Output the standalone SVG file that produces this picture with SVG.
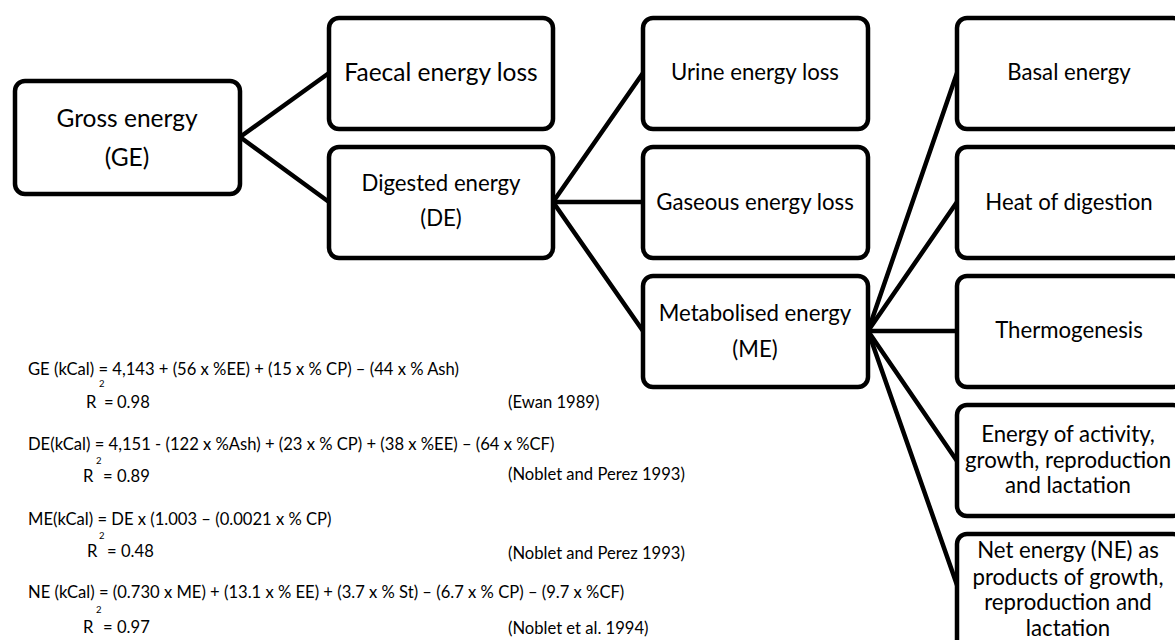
<svg xmlns="http://www.w3.org/2000/svg" width="1175" height="640" viewBox="0 0 1175 640">
<style>
.box{fill:#fff;stroke:#000;stroke-width:4.5}
.lbl{font-family:Lato,"Open Sans","DejaVu Sans",sans-serif;fill:#000;text-anchor:middle}
.big{font-size:24.5px}
.mid{font-size:22.2px}
.eq{font-family:Lato,"Open Sans","DejaVu Sans",sans-serif;font-size:16.6px;fill:#000}
.sup{font-family:Lato,"Open Sans","DejaVu Sans",sans-serif;font-size:9.5px;fill:#000}
.conn line{stroke:#000;stroke-width:4.5;stroke-linecap:round}
</style>
<rect width="1175" height="640" fill="#fff"/>
<g class="conn" id="connectors">
<line x1="240" y1="137" x2="329" y2="73"/>
<line x1="240" y1="137" x2="329" y2="202"/>
<line x1="553" y1="202" x2="643" y2="73"/>
<line x1="553" y1="202" x2="643" y2="202"/>
<line x1="553" y1="202" x2="643" y2="331"/>
<line x1="868" y1="331" x2="957" y2="73"/>
<line x1="868" y1="331" x2="957" y2="202"/>
<line x1="868" y1="331" x2="957" y2="331"/>
<line x1="868" y1="331" x2="957" y2="461"/>
<line x1="868" y1="331" x2="957" y2="585"/>
</g>
<g id="ge"><rect class="box" x="15" y="81" width="225" height="113" rx="10"/>
<text class="lbl big" x="127" y="127">Gross energy</text><text class="lbl big" x="127" y="166">(GE)</text></g>
<g id="fe"><rect class="box" x="329" y="18" width="224" height="111" rx="10"/>
<text class="lbl big" x="441" y="81">Faecal energy loss</text></g>
<g id="de"><rect class="box" x="329" y="147" width="224" height="111" rx="10"/>
<text class="lbl mid" x="441" y="191">Digested energy</text><text class="lbl mid" x="441" y="226">(DE)</text></g>
<g id="ue"><rect class="box" x="643" y="18" width="225" height="111" rx="10"/>
<text class="lbl mid" x="755" y="80">Urine energy loss</text></g>
<g id="ga"><rect class="box" x="643" y="147" width="225" height="111" rx="10"/>
<text class="lbl mid" x="755" y="210">Gaseous energy loss</text></g>
<g id="me"><rect class="box" x="643" y="276" width="225" height="111" rx="10"/>
<text class="lbl mid" x="755" y="321">Metabolised energy</text><text class="lbl mid" x="755" y="357">(ME)</text></g>
<g id="basal"><rect class="box" x="957" y="18" width="226" height="111" rx="10"/>
<text class="lbl mid" x="1069" y="80">Basal energy</text></g>
<g id="heat"><rect class="box" x="957" y="147" width="226" height="111" rx="10"/>
<text class="lbl mid" x="1069" y="210">Heat of digestion</text></g>
<g id="thermo"><rect class="box" x="957" y="276" width="226" height="111" rx="10"/>
<text class="lbl mid" x="1069" y="338">Thermogenesis</text></g>
<g id="activity"><rect class="box" x="957" y="405" width="226" height="111" rx="10"/>
<text class="lbl mid" x="1068" y="442">Energy of activity,</text><text class="lbl mid" x="1068" y="468">growth, reproduction</text><text class="lbl mid" x="1068" y="493">and lactation</text></g>
<g id="net"><rect class="box" x="957" y="534" width="226" height="130" rx="10"/>
<text class="lbl mid" x="1068" y="558">Net energy (NE) as</text><text class="lbl mid" x="1068" y="585">products of growth,</text><text class="lbl mid" x="1068" y="610">reproduction and</text><text class="lbl mid" x="1068" y="636">lactation</text></g>
<g id="equations">
<text class="eq" x="28" y="375">GE (kCal) = 4,143 + (56 x %EE) + (15 x % CP) – (44 x % Ash)</text>
<text class="sup" x="99" y="387">2</text>
<text class="eq" x="86" y="408">R <tspan x="104">=</tspan> <tspan x="117">0.98</tspan></text>
<text class="eq" x="508" y="408">(Ewan 1989)</text>
<text class="eq" x="28" y="450">DE(kCal) = 4,151 - (122 x %Ash) + (23 x % CP) + (38 x %EE) – (64 x %CF)</text>
<text class="sup" x="96" y="464">2</text>
<text class="eq" x="83" y="482">R <tspan x="103">=</tspan> <tspan x="117">0.89</tspan></text>
<text class="eq" x="508" y="480">(Noblet and Perez 1993)</text>
<text class="eq" x="28" y="525">ME(kCal) = DE x (1.003 – (0.0021 x % CP)</text>
<text class="sup" x="99" y="539">2</text>
<text class="eq" x="87" y="557">R <tspan x="107">=</tspan> <tspan x="121">0.48</tspan></text>
<text class="eq" x="508" y="559">(Noblet and Perez 1993)</text>
<text class="eq" x="28" y="598">NE (kCal) = (0.730 x ME) + (13.1 x % EE) + (3.7 x % St) – (6.7 x % CP) – (9.7 x %CF)</text>
<text class="sup" x="96" y="613">2</text>
<text class="eq" x="83" y="633">R <tspan x="103">=</tspan> <tspan x="117">0.97</tspan></text>
<text class="eq" x="508" y="634">(Noblet et al. 1994)</text>
</g>
</svg>
